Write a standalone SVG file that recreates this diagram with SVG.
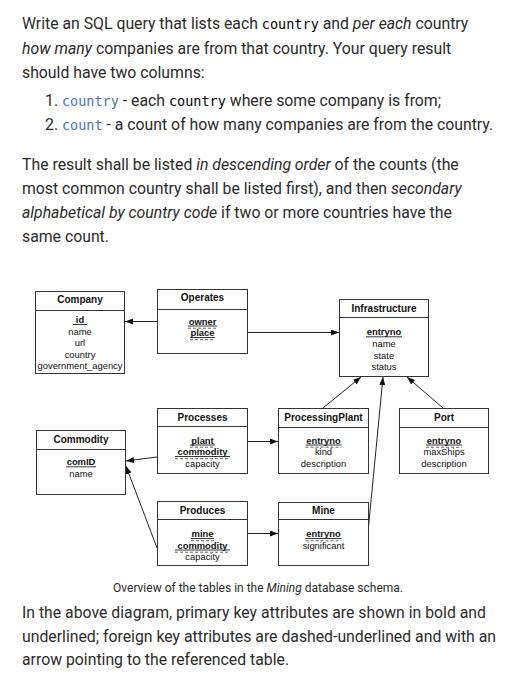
<svg xmlns="http://www.w3.org/2000/svg" width="531" height="697" viewBox="0 0 531 697">
<defs>
<marker id="ah" markerUnits="userSpaceOnUse" markerWidth="9" markerHeight="7" refX="8" refY="3" orient="auto">
<path d="M0,0 L8,3 L0,6 z" fill="#111"/>
</marker>
<style>
.body{font-family:Roboto,"Liberation Sans",sans-serif;font-size:15.8px;fill:#2b2b2b}
.it{font-style:italic}
.mono{font-family:"DejaVu Sans Mono","Liberation Mono",monospace;font-size:13.5px;fill:#000}
.code{font-family:"DejaVu Sans Mono","Liberation Mono",monospace;font-size:13.5px;fill:#4a76c0}
.cap{font-family:Roboto,"Liberation Sans",sans-serif;font-size:12px;fill:#2b2b2b}
.box{fill:#fff;stroke:#333;stroke-width:1}
.sep{stroke:#333;stroke-width:1}
.hd{font-family:"Liberation Sans",Arial,sans-serif;font-size:10px;font-weight:bold;fill:#111;text-anchor:middle}
.at{font-family:"Liberation Sans",Arial,sans-serif;font-size:9.4px;fill:#111;text-anchor:middle}
.pk{font-weight:bold}
.ul{stroke:#222;stroke-width:0.9}
.dl{stroke:#555;stroke-width:0.9;stroke-dasharray:3,2}
.conn line{stroke:#222;stroke-width:1}
</style>
</defs>
<rect width="531" height="697" fill="#fff"/>

<g id="text-top">
<text class="body" x="22" y="29">Write an SQL query that lists each <tspan class="mono">country</tspan> and <tspan class="it">per each</tspan> country</text>
<text class="body" x="22" y="53.5"><tspan class="it">how many</tspan> companies are from that country. Your query result</text>
<text class="body" x="22" y="77.5">should have two columns:</text>
<text class="body" x="45" y="106">1. <tspan class="code">country</tspan> - each <tspan class="mono">country</tspan> where some company is from;</text>
<text class="body" x="45" y="130">2. <tspan class="code">count</tspan> - a count of how many companies are from the country.</text>
<text class="body" x="22" y="170">The result shall be listed <tspan class="it">in descending order</tspan> of the counts (the</text>
<text class="body" x="22" y="194">most common country shall be listed first), and then <tspan class="it">secondary</tspan></text>
<text class="body" x="22" y="218"><tspan class="it">alphabetical by country code</tspan> if two or more countries have the</text>
<text class="body" x="22" y="241.5">same count.</text>
</g>

<g id="connectors" class="conn">
<line x1="157" y1="321.5" x2="125" y2="321.5" marker-end="url(#ah)"/>
<line x1="247" y1="332.5" x2="339" y2="332.5" marker-end="url(#ah)"/>
<line x1="247" y1="441.5" x2="278" y2="441.5" marker-end="url(#ah)"/>
<line x1="247" y1="533.5" x2="278" y2="533.5" marker-end="url(#ah)"/>
<line x1="157" y1="457" x2="126" y2="461" marker-end="url(#ah)"/>
<line x1="157" y1="548" x2="126" y2="466" marker-end="url(#ah)"/>
<line x1="323" y1="408" x2="361" y2="377" marker-end="url(#ah)"/>
<line x1="368" y1="532" x2="383" y2="377" marker-end="url(#ah)"/>
<line x1="443" y1="408" x2="407" y2="377" marker-end="url(#ah)"/>
</g>

<g id="company">
<rect class="box" x="35.5" y="291.5" width="89" height="82"/>
<line class="sep" x1="35.5" y1="310.5" x2="124.5" y2="310.5"/>
<text class="hd" x="80" y="303">Company</text>
<text class="at pk" x="80" y="322.5">id</text>
<line class="ul" x1="73" y1="324.5" x2="87" y2="324.5"/>
<text class="at" x="80" y="334.5">name</text>
<text class="at" x="80" y="346">url</text>
<text class="at" x="80" y="357.5">country</text>
<text class="at" x="80" y="369">government_agency</text>
</g>

<g id="operates">
<rect class="box" x="157.5" y="289.5" width="90" height="64"/>
<line class="sep" x1="157.5" y1="309.5" x2="247.5" y2="309.5"/>
<text class="hd" x="202.5" y="301">Operates</text>
<text class="at pk" x="202.5" y="324.5">owner</text>
<line class="ul" x1="188" y1="326" x2="217" y2="326"/>
<line class="dl" x1="188" y1="328.2" x2="217" y2="328.2"/>
<text class="at pk" x="202.5" y="336">place</text>
<line class="ul" x1="190" y1="337.5" x2="215" y2="337.5"/>
<line class="dl" x1="190" y1="339.7" x2="215" y2="339.7"/>
</g>

<g id="infrastructure">
<rect class="box" x="339.5" y="299.5" width="89" height="77"/>
<line class="sep" x1="339.5" y1="317.5" x2="428.5" y2="317.5"/>
<text class="hd" x="384" y="311.5">Infrastructure</text>
<text class="at pk" x="384" y="335">entryno</text>
<line class="ul" x1="366" y1="336.8" x2="402" y2="336.8"/>
<text class="at" x="384" y="346.5">name</text>
<text class="at" x="384" y="358.5">state</text>
<text class="at" x="384" y="370">status</text>
</g>

<g id="processes">
<rect class="box" x="157.5" y="408.5" width="90" height="65"/>
<line class="sep" x1="157.5" y1="426.5" x2="247.5" y2="426.5"/>
<text class="hd" x="202.5" y="420.5">Processes</text>
<text class="at pk" x="202.5" y="443.5">plant</text>
<line class="ul" x1="190" y1="445" x2="215" y2="445"/>
<line class="dl" x1="190" y1="447.2" x2="215" y2="447.2"/>
<text class="at pk" x="202.5" y="455">commodity</text>
<line class="ul" x1="175" y1="456.5" x2="230" y2="456.5"/>
<line class="dl" x1="175" y1="458.7" x2="230" y2="458.7"/>
<text class="at" x="202.5" y="466.5">capacity</text>
</g>

<g id="processingplant">
<rect class="box" x="278.5" y="408.5" width="90" height="65"/>
<line class="sep" x1="278.5" y1="427.5" x2="368.5" y2="427.5"/>
<text class="hd" x="323.5" y="420.5">ProcessingPlant</text>
<text class="at pk" x="323.5" y="443.5">entryno</text>
<line class="ul" x1="305.5" y1="445" x2="341.5" y2="445"/>
<line class="dl" x1="305.5" y1="447.2" x2="341.5" y2="447.2"/>
<text class="at" x="323.5" y="455">kind</text>
<text class="at" x="323.5" y="466.5">description</text>
</g>

<g id="port">
<rect class="box" x="399.5" y="408.5" width="89" height="65"/>
<line class="sep" x1="399.5" y1="427.5" x2="488.5" y2="427.5"/>
<text class="hd" x="444" y="420.5">Port</text>
<text class="at pk" x="444" y="443.5">entryno</text>
<line class="ul" x1="426" y1="445" x2="462" y2="445"/>
<line class="dl" x1="426" y1="447.2" x2="462" y2="447.2"/>
<text class="at" x="444" y="455">maxShips</text>
<text class="at" x="444" y="466.5">description</text>
</g>

<g id="commodity">
<rect class="box" x="36.5" y="430.5" width="89" height="64"/>
<line class="sep" x1="36.5" y1="449.5" x2="125.5" y2="449.5"/>
<text class="hd" x="81" y="443">Commodity</text>
<text class="at pk" x="81" y="465">comID</text>
<line class="ul" x1="66" y1="466.8" x2="96" y2="466.8"/>
<text class="at" x="81" y="477">name</text>
</g>

<g id="produces">
<rect class="box" x="157.5" y="501.5" width="90" height="64"/>
<line class="sep" x1="157.5" y1="519.5" x2="247.5" y2="519.5"/>
<text class="hd" x="202.5" y="514">Produces</text>
<text class="at pk" x="202.5" y="537">mine</text>
<line class="ul" x1="191" y1="538.5" x2="214" y2="538.5"/>
<line class="dl" x1="191" y1="540.7" x2="214" y2="540.7"/>
<text class="at pk" x="202.5" y="548.5">commodity</text>
<line class="ul" x1="175" y1="550" x2="230" y2="550"/>
<line class="dl" x1="175" y1="552.2" x2="230" y2="552.2"/>
<text class="at" x="202.5" y="560">capacity</text>
</g>

<g id="mine">
<rect class="box" x="278.5" y="502.5" width="90" height="63"/>
<line class="sep" x1="278.5" y1="519.5" x2="368.5" y2="519.5"/>
<text class="hd" x="323.5" y="513.5">Mine</text>
<text class="at pk" x="323.5" y="537">entryno</text>
<line class="ul" x1="305.5" y1="538.5" x2="341.5" y2="538.5"/>
<line class="dl" x1="305.5" y1="540.7" x2="341.5" y2="540.7"/>
<text class="at" x="323.5" y="548.5">significant</text>
</g>

<g id="text-bottom">
<text class="cap" x="258" y="591.5" text-anchor="middle">Overview of the tables in the <tspan class="it">Mining</tspan> database schema.</text>
<text class="body" x="22" y="618">In the above diagram, primary key attributes are shown in bold and</text>
<text class="body" x="22" y="641.5">underlined; foreign key attributes are dashed-underlined and with an</text>
<text class="body" x="22" y="665">arrow pointing to the referenced table.</text>
</g>
</svg>
